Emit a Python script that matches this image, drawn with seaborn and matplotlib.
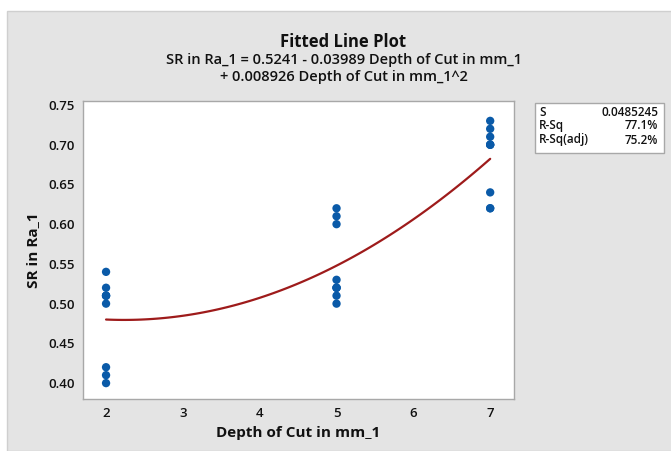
import numpy as np
import pandas as pd
import seaborn as sns
import matplotlib.pyplot as plt
from matplotlib.patches import Rectangle

# data (9 runs per depth, some overlapping)
depth_2 = [0.54, 0.52, 0.51, 0.51, 0.51, 0.50, 0.42, 0.41, 0.40]
depth_5 = [0.62, 0.61, 0.60, 0.53, 0.52, 0.52, 0.52, 0.51, 0.50]
depth_7 = [0.73, 0.72, 0.71, 0.70, 0.70, 0.70, 0.64, 0.62, 0.62]
depths = [2, 5, 7]
x_ticks = [2, 3, 4, 5, 6, 7]
y_ticks = [0.40, 0.45, 0.50, 0.55, 0.60, 0.65, 0.70, 0.75]
stat_names = ["S", "R-Sq", "R-Sq(adj)"]
stat_values = ["0.0485245", "77.1%", "75.2%"]

df = pd.DataFrame({
    "Depth of Cut in mm_1": np.repeat(depths, 9),
    "SR in Ra_1": depth_2 + depth_5 + depth_7,
})

sns.set_style("white")
plt.rcParams["font.family"] = ["Open Sans", "DejaVu Sans"]

fig = plt.figure(figsize=(6.71, 4.51), dpi=100)
fig.patch.set_facecolor("white")
# grey panel behind everything
fig.patches.append(Rectangle((7 / 671, 0), 1, 1 - 11 / 451, transform=fig.transFigure,
                             facecolor="#e4e4e4", edgecolor="#cfcfcf", lw=1, zorder=-5))

ax = fig.add_axes([83 / 671, 1 - 399 / 451, 431 / 671, 298 / 451])
ax.set_facecolor("white")

sns.regplot(data=df, x="Depth of Cut in mm_1", y="SR in Ra_1", order=2, ci=None,
            scatter_kws=dict(color="#0a5aa8", s=36, alpha=1, edgecolor="none", zorder=3),
            line_kws=dict(color="#9e1b1b", lw=1.6, zorder=2), ax=ax)

ax.set_xlim(1.70, 7.31)
ax.set_ylim(0.38, 0.755)
ax.set_xticks(x_ticks)
ax.set_yticks(y_ticks)
ax.set_yticklabels([f"{v:.2f}" for v in y_ticks])
ax.tick_params(axis="both", direction="out", length=4, width=0.8, color="#a0a0a0",
               labelsize=9.5, pad=2, labelcolor="#111111")
for lab in ax.get_xticklabels() + ax.get_yticklabels():
    lab.set_fontweight("semibold")
for sp in ax.spines.values():
    sp.set_color("#a8a8a8")
    sp.set_linewidth(1)

ax.set_xlabel("Depth of Cut in mm_1", fontsize=11, fontweight="bold", labelpad=4, color="#111111")
ax.set_ylabel("SR in Ra_1", fontsize=11, fontweight="bold", labelpad=6, color="#111111")

fig.text(0.512, 1 - 42 / 451, "Fitted Line Plot", ha="center", va="center",
         fontsize=12, fontweight="bold", color="#111111")
fig.text(0.512, 1 - 60 / 451, "SR in Ra_1 = 0.5241 - 0.03989 Depth of Cut in mm_1",
         ha="center", va="center", fontsize=10.5, fontweight="semibold", color="#111111")
fig.text(0.512, 1 - 77 / 451, "+ 0.008926 Depth of Cut in mm_1^2",
         ha="center", va="center", fontsize=10.5, fontweight="semibold", color="#111111")

# summary box
fig.patches.append(Rectangle((535 / 671, 1 - 153 / 451), 129 / 671, 50 / 451,
                             transform=fig.transFigure, facecolor="white",
                             edgecolor="#a8a8a8", lw=1, zorder=1))
for i, (n, v) in enumerate(zip(stat_names, stat_values)):
    yy = 1 - (112 + i * 14) / 451
    fig.text(539 / 671, yy, n, ha="left", va="center", fontsize=8.5,
             fontweight="semibold", color="#111111")
    fig.text(658 / 671, yy, v, ha="right", va="center", fontsize=8.5,
             fontweight="semibold", color="#111111")

fig.savefig("out.png", dpi=100)
